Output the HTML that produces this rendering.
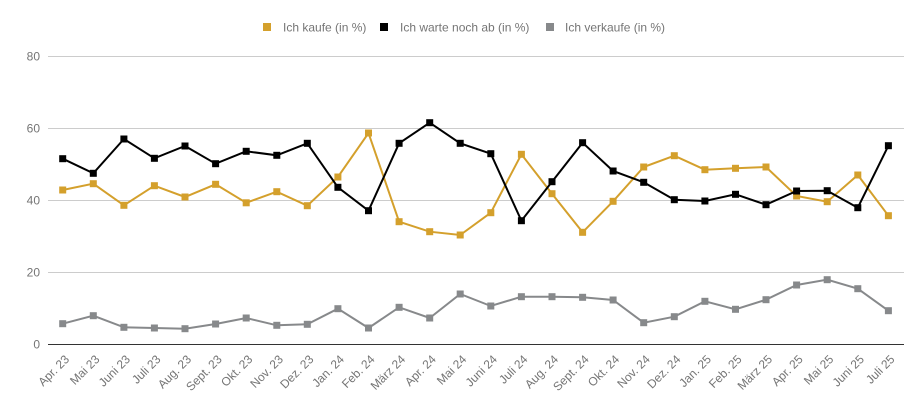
<!DOCTYPE html>
<html><head><meta charset="utf-8"><style>
html,body{margin:0;padding:0;background:#fff;}
svg{display:block;font-family:"Liberation Sans",Arial,sans-serif;}
</style></head><body>
<svg width="924" height="407" viewBox="0 0 924 407" xmlns="http://www.w3.org/2000/svg">
<rect width="924" height="407" fill="#fff"/>
<!-- legend -->
<rect x="263" y="23" width="8" height="8" fill="#d4a02c"/>
<text x="283" y="31.5" font-size="12" fill="#757575">Ich kaufe (in %)</text>
<rect x="380" y="23" width="8" height="8" fill="#000"/>
<text x="400" y="31.5" font-size="12" fill="#757575">Ich warte noch ab (in %)</text>
<rect x="546" y="23" width="8" height="8" fill="#87898b"/>
<text x="565" y="31.5" font-size="12" fill="#757575">Ich verkaufe (in %)</text>
<!-- grid -->
<g stroke="#cccccc" stroke-width="1">
<line x1="48" y1="56.5" x2="904" y2="56.5"/>
<line x1="48" y1="128.5" x2="904" y2="128.5"/>
<line x1="48" y1="200.5" x2="904" y2="200.5"/>
<line x1="48" y1="272.5" x2="904" y2="272.5"/>
</g>
<line x1="48" y1="344.5" x2="904" y2="344.5" stroke="#333" stroke-width="1"/>
<g font-size="12" fill="#757575" text-anchor="end">
<text x="40" y="60.5">80</text>
<text x="40" y="132.5">60</text>
<text x="40" y="204.5">40</text>
<text x="40" y="276.5">20</text>
<text x="40" y="348.5">0</text>
</g>
<!-- series -->
<polyline fill="none" stroke="#d4a02c" stroke-width="2" points="62.7,190 93.3,183.7 123.9,205.3 154.4,185.7 185,197 215.6,184.3 246.2,202.8 276.8,191.7 307.3,205.7 337.9,177 368.5,133 399.1,221.7 429.7,231.7 460.2,235 490.8,212.7 521.4,154.3 552,193.7 582.6,232.3 613.1,201.3 643.7,167 674.3,155.7 704.9,169.7 735.5,168.3 766,167 796.6,196 827.2,201.7 857.8,175 888.4,215.7"/>
<g fill="#d4a02c">
<rect x="59.2" y="186.5" width="7" height="7"/><rect x="89.8" y="180.2" width="7" height="7"/><rect x="120.4" y="201.8" width="7" height="7"/><rect x="150.9" y="182.2" width="7" height="7"/><rect x="181.5" y="193.5" width="7" height="7"/><rect x="212.1" y="180.8" width="7" height="7"/><rect x="242.7" y="199.3" width="7" height="7"/><rect x="273.3" y="188.2" width="7" height="7"/><rect x="303.8" y="202.2" width="7" height="7"/><rect x="334.4" y="173.5" width="7" height="7"/><rect x="365" y="129.5" width="7" height="7"/><rect x="395.6" y="218.2" width="7" height="7"/><rect x="426.2" y="228.2" width="7" height="7"/><rect x="456.7" y="231.5" width="7" height="7"/><rect x="487.3" y="209.2" width="7" height="7"/><rect x="517.9" y="150.8" width="7" height="7"/><rect x="548.5" y="190.2" width="7" height="7"/><rect x="579.1" y="228.8" width="7" height="7"/><rect x="609.6" y="197.8" width="7" height="7"/><rect x="640.2" y="163.5" width="7" height="7"/><rect x="670.8" y="152.2" width="7" height="7"/><rect x="701.4" y="166.2" width="7" height="7"/><rect x="732" y="164.8" width="7" height="7"/><rect x="762.5" y="163.5" width="7" height="7"/><rect x="793.1" y="192.5" width="7" height="7"/><rect x="823.7" y="198.2" width="7" height="7"/><rect x="854.3" y="171.5" width="7" height="7"/><rect x="884.9" y="212.2" width="7" height="7"/>
</g>
<polyline fill="none" stroke="#000" stroke-width="2" points="62.7,158.7 93.3,173.3 123.9,139 154.4,158.3 185,146 215.6,163.7 246.2,151.3 276.8,155.3 307.3,143.3 337.9,187.3 368.5,210.7 399.1,143.3 429.7,122.7 460.2,143.3 490.8,153.7 521.4,220.7 552,181.7 582.6,142.7 613.1,171 643.7,182.3 674.3,199.7 704.9,201 735.5,194.3 766,204.7 796.6,191 827.2,190.7 857.8,207.7 888.4,145.7"/>
<g fill="#000">
<rect x="59.2" y="155.2" width="7" height="7"/><rect x="89.8" y="169.8" width="7" height="7"/><rect x="120.4" y="135.5" width="7" height="7"/><rect x="150.9" y="154.8" width="7" height="7"/><rect x="181.5" y="142.5" width="7" height="7"/><rect x="212.1" y="160.2" width="7" height="7"/><rect x="242.7" y="147.8" width="7" height="7"/><rect x="273.3" y="151.8" width="7" height="7"/><rect x="303.8" y="139.8" width="7" height="7"/><rect x="334.4" y="183.8" width="7" height="7"/><rect x="365" y="207.2" width="7" height="7"/><rect x="395.6" y="139.8" width="7" height="7"/><rect x="426.2" y="119.2" width="7" height="7"/><rect x="456.7" y="139.8" width="7" height="7"/><rect x="487.3" y="150.2" width="7" height="7"/><rect x="517.9" y="217.2" width="7" height="7"/><rect x="548.5" y="178.2" width="7" height="7"/><rect x="579.1" y="139.2" width="7" height="7"/><rect x="609.6" y="167.5" width="7" height="7"/><rect x="640.2" y="178.8" width="7" height="7"/><rect x="670.8" y="196.2" width="7" height="7"/><rect x="701.4" y="197.5" width="7" height="7"/><rect x="732" y="190.8" width="7" height="7"/><rect x="762.5" y="201.2" width="7" height="7"/><rect x="793.1" y="187.5" width="7" height="7"/><rect x="823.7" y="187.2" width="7" height="7"/><rect x="854.3" y="204.2" width="7" height="7"/><rect x="884.9" y="142.2" width="7" height="7"/>
</g>
<polyline fill="none" stroke="#87898b" stroke-width="2" points="62.7,323.7 93.3,315.7 123.9,327.3 154.4,328 185,328.7 215.6,324 246.2,318 276.8,325.3 307.3,324.3 337.9,308.7 368.5,328 399.1,307.3 429.7,318 460.2,294 490.8,306 521.4,296.7 552,296.7 582.6,297.3 613.1,300 643.7,322.7 674.3,316.7 704.9,301.3 735.5,309.3 766,299.7 796.6,285 827.2,279.7 857.8,288.7 888.4,310.7"/>
<g fill="#87898b">
<rect x="59.2" y="320.2" width="7" height="7"/><rect x="89.8" y="312.2" width="7" height="7"/><rect x="120.4" y="323.8" width="7" height="7"/><rect x="150.9" y="324.5" width="7" height="7"/><rect x="181.5" y="325.2" width="7" height="7"/><rect x="212.1" y="320.5" width="7" height="7"/><rect x="242.7" y="314.5" width="7" height="7"/><rect x="273.3" y="321.8" width="7" height="7"/><rect x="303.8" y="320.8" width="7" height="7"/><rect x="334.4" y="305.2" width="7" height="7"/><rect x="365" y="324.5" width="7" height="7"/><rect x="395.6" y="303.8" width="7" height="7"/><rect x="426.2" y="314.5" width="7" height="7"/><rect x="456.7" y="290.5" width="7" height="7"/><rect x="487.3" y="302.5" width="7" height="7"/><rect x="517.9" y="293.2" width="7" height="7"/><rect x="548.5" y="293.2" width="7" height="7"/><rect x="579.1" y="293.8" width="7" height="7"/><rect x="609.6" y="296.5" width="7" height="7"/><rect x="640.2" y="319.2" width="7" height="7"/><rect x="670.8" y="313.2" width="7" height="7"/><rect x="701.4" y="297.8" width="7" height="7"/><rect x="732" y="305.8" width="7" height="7"/><rect x="762.5" y="296.2" width="7" height="7"/><rect x="793.1" y="281.5" width="7" height="7"/><rect x="823.7" y="276.2" width="7" height="7"/><rect x="854.3" y="285.2" width="7" height="7"/><rect x="884.9" y="307.2" width="7" height="7"/>
</g>
<!-- x labels -->
<g font-size="12" fill="#757575" text-anchor="end">
<text transform="translate(70,360) rotate(-45)">Apr. 23</text>
<text transform="translate(100.3,360) rotate(-45)">Mai 23</text>
<text transform="translate(130.9,360) rotate(-45)">Juni 23</text>
<text transform="translate(161.4,360) rotate(-45)">Juli 23</text>
<text transform="translate(192,360) rotate(-45)">Aug. 23</text>
<text transform="translate(222.6,360) rotate(-45)">Sept. 23</text>
<text transform="translate(253.2,360) rotate(-45)">Okt. 23</text>
<text transform="translate(283.8,360) rotate(-45)">Nov. 23</text>
<text transform="translate(314.3,360) rotate(-45)">Dez. 23</text>
<text transform="translate(344.9,360) rotate(-45)">Jan. 24</text>
<text transform="translate(375.5,360) rotate(-45)">Feb. 24</text>
<text transform="translate(406.1,360) rotate(-45)">März 24</text>
<text transform="translate(436.7,360) rotate(-45)">Apr. 24</text>
<text transform="translate(467.2,360) rotate(-45)">Mai 24</text>
<text transform="translate(497.8,360) rotate(-45)">Juni 24</text>
<text transform="translate(528.4,360) rotate(-45)">Juli 24</text>
<text transform="translate(559,360) rotate(-45)">Aug. 24</text>
<text transform="translate(589.6,360) rotate(-45)">Sept. 24</text>
<text transform="translate(620.1,360) rotate(-45)">Okt. 24</text>
<text transform="translate(650.7,360) rotate(-45)">Nov. 24</text>
<text transform="translate(681.3,360) rotate(-45)">Dez. 24</text>
<text transform="translate(711.9,360) rotate(-45)">Jan. 25</text>
<text transform="translate(742.5,360) rotate(-45)">Feb. 25</text>
<text transform="translate(773,360) rotate(-45)">März 25</text>
<text transform="translate(803.6,360) rotate(-45)">Apr. 25</text>
<text transform="translate(834.2,360) rotate(-45)">Mai 25</text>
<text transform="translate(864.8,360) rotate(-45)">Juni 25</text>
<text transform="translate(895.4,360) rotate(-45)">Juli 25</text>
</g>
</svg>
</body></html>
